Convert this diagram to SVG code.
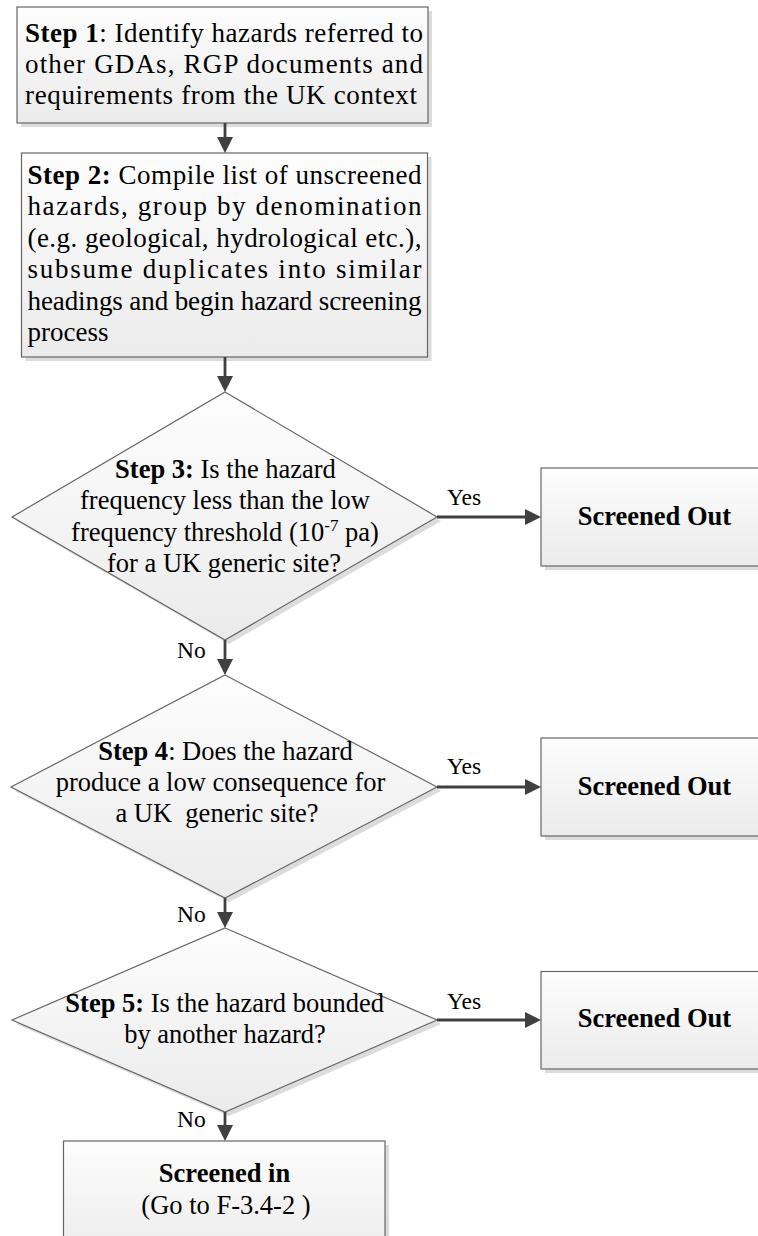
<svg xmlns="http://www.w3.org/2000/svg" width="758" height="1236" viewBox="0 0 758 1236">
<style>
.node{fill:url(#g);stroke:#666;stroke-width:1.2}
.shadow{fill:#dcdcdc;stroke:none}
.t{font-family:"Liberation Serif","Times New Roman",serif;font-size:26.5px;fill:#000}
.tb{font-family:"Liberation Serif","Times New Roman",serif;font-size:27px;fill:#000}
.b{font-weight:bold}
.c{text-anchor:middle}
.lbl{font-family:"Liberation Serif","Times New Roman",serif;font-size:23.5px;fill:#000}
.conn{stroke:#404040;stroke-width:2.8;fill:none;marker-end:url(#ah)}
</style>
<defs>
<linearGradient id="g" x1="0" y1="0" x2="0" y2="1">
<stop offset="0" stop-color="#fdfdfd"/>
<stop offset="1" stop-color="#ebebeb"/>
</linearGradient>
<marker id="ah" markerUnits="userSpaceOnUse" markerWidth="16" markerHeight="16" refX="8" refY="8" orient="auto">
<path d="M0,0 L16,8 L0,16 z" fill="#404040"/>
</marker>
</defs>
<rect width="758" height="1236" fill="#fff"/>

<g id="step1">
<rect class="shadow" x="21" y="11" width="411" height="116"/>
<rect class="node" x="17" y="7" width="411" height="116"/>
<text class="tb" x="25" y="41.5" textLength="398" lengthAdjust="spacing"><tspan class="b">Step 1</tspan>: Identify hazards referred to</text>
<text class="tb" x="25" y="72.5" textLength="398" lengthAdjust="spacing">other GDAs, RGP documents and</text>
<text class="tb" x="25" y="103.5" textLength="392" lengthAdjust="spacing">requirements from the UK context</text>
</g>

<g id="step2">
<rect class="shadow" x="25.5" y="157" width="406" height="204"/>
<rect class="node" x="21.5" y="153" width="406" height="204"/>
<text class="tb" x="27.5" y="183.5" textLength="394" lengthAdjust="spacing"><tspan class="b">Step 2:</tspan> Compile list of unscreened</text>
<text class="tb" x="27.5" y="215" textLength="394" lengthAdjust="spacing">hazards, group by denomination</text>
<text class="tb" x="27.5" y="246.5" textLength="394" lengthAdjust="spacing">(e.g. geological, hydrological etc.),</text>
<text class="tb" x="27.5" y="278" textLength="394" lengthAdjust="spacing">subsume duplicates into similar</text>
<text class="tb" x="27.5" y="309.5" textLength="394" lengthAdjust="spacing">headings and begin hazard screening</text>
<text class="tb" x="27.5" y="341">process</text>
</g>

<g id="step3">
<polygon class="shadow" points="229,396 441,521 229,644 16,521"/>
<polygon class="node" points="225,392 437,517 225,640 12,517"/>
<text class="t c" x="225.5" y="477.5"><tspan class="b">Step 3:</tspan> Is the hazard</text>
<text class="t c" x="225" y="509">frequency less than the low</text>
<text class="t c" x="225" y="540.5">frequency threshold (10<tspan font-size="17" dy="-10">-7</tspan><tspan dy="10"> pa)</tspan></text>
<text class="t c" x="224" y="572">for a UK generic site?</text>
</g>

<g id="out3">
<rect class="shadow" x="545" y="472" width="230" height="98"/>
<rect class="node" x="541" y="468" width="230" height="98"/>
<text class="t b c" x="654.5" y="525">Screened Out</text>
</g>

<g id="step4">
<polygon class="shadow" points="229,679 441,791 229,902 15,791"/>
<polygon class="node" points="225,675 437,787 225,898 11,787"/>
<text class="t c" x="225.5" y="760"><tspan class="b">Step 4</tspan>: Does the hazard</text>
<text class="t c" x="220.5" y="791">produce a low consequence for</text>
<text class="t c" x="217" y="822" style="white-space:pre">a UK  generic site?</text>
</g>

<g id="out4">
<rect class="shadow" x="545" y="742" width="230" height="98"/>
<rect class="node" x="541" y="738" width="230" height="98"/>
<text class="t b c" x="654.5" y="795">Screened Out</text>
</g>

<g id="step5">
<polygon class="shadow" points="229,932 441,1024 229,1116 16,1024"/>
<polygon class="node" points="225,928 437,1020 225,1112 12,1020"/>
<text class="t c" x="224.7" y="1011.5"><tspan class="b">Step 5:</tspan> Is the hazard bounded</text>
<text class="t c" x="225" y="1043">by another hazard?</text>
</g>

<g id="out5">
<rect class="shadow" x="545" y="975.5" width="230" height="97.5"/>
<rect class="node" x="541" y="971.5" width="230" height="97.5"/>
<text class="t b c" x="654.5" y="1027">Screened Out</text>
</g>

<g id="screenedin">
<rect class="shadow" x="67.5" y="1145" width="321.5" height="120"/>
<rect class="node" x="63.5" y="1141" width="321.5" height="120"/>
<text class="t b c" x="224.5" y="1181.5">Screened in</text>
<text class="t c" x="226" y="1213.5">(Go to F-3.4-2 )</text>
</g>

<g id="connectors">
<line class="conn" x1="225" y1="123" x2="225" y2="145"/>
<line class="conn" x1="225" y1="357" x2="225" y2="384"/>
<line class="conn" x1="225" y1="640" x2="225" y2="667"/>
<line class="conn" x1="225" y1="898" x2="225" y2="920"/>
<line class="conn" x1="225" y1="1112" x2="225" y2="1133"/>
<line class="conn" x1="437" y1="517" x2="533" y2="517"/>
<line class="conn" x1="437" y1="787" x2="533" y2="787"/>
<line class="conn" x1="437" y1="1020" x2="533" y2="1020"/>
<text class="lbl" x="447" y="505">Yes</text>
<text class="lbl" x="447" y="774">Yes</text>
<text class="lbl" x="447" y="1008.5">Yes</text>
<text class="lbl" x="177" y="658">No</text>
<text class="lbl" x="177" y="921.5">No</text>
<text class="lbl" x="177" y="1126.5">No</text>
</g>
</svg>
